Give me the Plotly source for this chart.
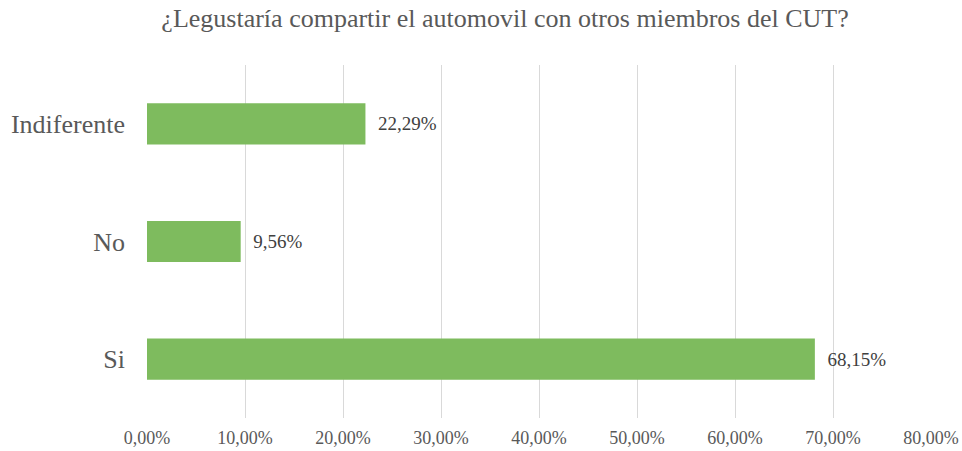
import plotly.graph_objects as go

categories = ["Si", "No", "Indiferente"]
values = [68.15, 9.56, 22.29]
value_labels = ["68,15%", "9,56%", "22,29%"]
tick_values = [0, 10, 20, 30, 40, 50, 60, 70, 80]
tick_labels = ["0,00%", "10,00%", "20,00%", "30,00%", "40,00%", "50,00%", "60,00%", "70,00%", "80,00%"]

font_family = "Liberation Serif, Times New Roman, serif"

fig = go.Figure(go.Bar(
    y=categories,
    x=values,
    orientation="h",
    marker=dict(color="#7EBB5E", line=dict(width=0)),
    text=["\u00a0\u00a0" + t for t in value_labels],
    textposition="outside",
    textfont=dict(family=font_family, size=19, color="#404040"),
    cliponaxis=False,
))

fig.update_layout(
    width=962, height=451,
    margin=dict(l=147, r=31, t=65, b=33, autoexpand=False),
    paper_bgcolor="white", plot_bgcolor="white",
    title=dict(text="¿Legustaría compartir el automovil con otros miembros del CUT?",
               x=0.525, xanchor="center", y=0.96, yanchor="middle",
               font=dict(family=font_family, size=26, color="#595959")),
    bargap=0.65,
    showlegend=False,
    font=dict(family=font_family),
)
fig.update_xaxes(range=[0, 80], tickvals=tick_values, ticktext=tick_labels,
                 showgrid=True, gridcolor="#D9D9D9", gridwidth=1,
                 zeroline=False, showline=False, ticks="", automargin=False,
                 tickfont=dict(family=font_family, size=18, color="#595959"),
                 ticklabelstandoff=7)
fig.update_yaxes(showgrid=False, zeroline=False, showline=False, ticks="", automargin=False,
                 tickfont=dict(family=font_family, size=26, color="#595959"),
                 ticklabelstandoff=21)

fig.write_html("out.html")
